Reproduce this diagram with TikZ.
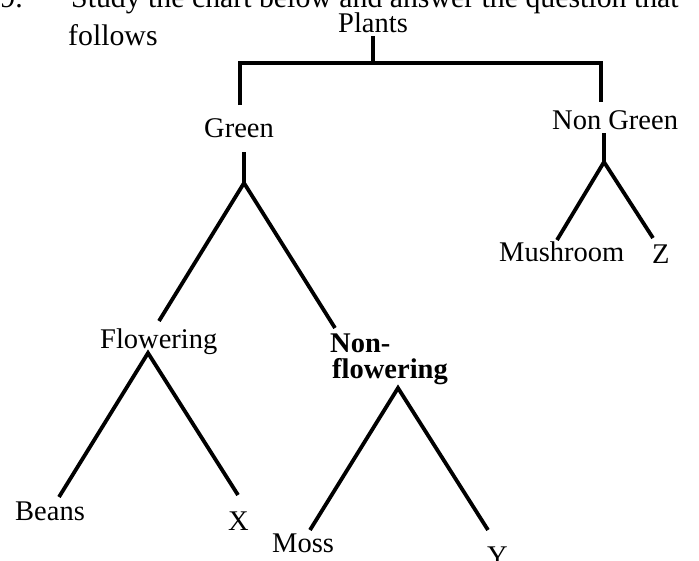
\documentclass[tikz,border=0pt]{standalone}
\usepackage{fontspec}
\setmainfont{Liberation Serif}
\begin{document}
\begin{tikzpicture}[x=1pt,y=-1pt,
  lbl/.style={inner sep=0pt,font=\fontsize{28.5}{30}\selectfont},
  head/.style={inner sep=0pt,font=\fontsize{29.8}{31}\selectfont},
  branch/.style={line width=3.8pt,line cap=butt,line join=miter,black}]
\useasboundingbox (0,0) rectangle (699,560);
\clip (0,0) rectangle (699,560);
\fill[white] (0,0) rectangle (699,560);
% heading
\node[head,anchor=base east] (num) at (23,7) {29.};
\node[head,anchor=base west] (q1) at (71,7) {Study the chart below and answer the question that};
\node[head,anchor=base west] (q2) at (68,45) {follows};
% labels
\node[lbl,anchor=base] (plants) at (373,32) {Plants};
\node[lbl,anchor=base] (green) at (239,137) {Green};
\node[lbl,anchor=base west] (nongreen) at (552,129) {Non Green};
\node[lbl,anchor=base west] (flow) at (100,348) {Flowering};
\node[lbl,anchor=base west] (non) at (330,352) {\bfseries Non-};
\node[lbl,anchor=base west] (nonflow) at (332,378) {\bfseries flowering};
\node[lbl,anchor=base west] (beans) at (15,520) {Beans};
\node[lbl,anchor=base west] (x) at (228,530) {X};
\node[lbl,anchor=base west] (moss) at (272,552) {Moss};
\node[lbl,anchor=base west] (y) at (487,565) {Y};
\node[lbl,anchor=base west] (mush) at (499,261) {Mushroom};
\node[lbl,anchor=base west] (z) at (652,263) {Z};
% junction coordinates
\coordinate (p1) at (373,36);
\coordinate (pbar) at (373,63);
\coordinate (gtop) at (240,105);
\coordinate (ngtop) at (601,102);
\coordinate (g1) at (244,152);
\coordinate (gapex) at (244,183);
\coordinate (gl) at (159,321);
\coordinate (gr) at (335,328);
\coordinate (fapex) at (148,353);
\coordinate (fl) at (59,497);
\coordinate (fr) at (238,495);
\coordinate (napex) at (398,388);
\coordinate (nl) at (310,530);
\coordinate (nr) at (488,530);
\coordinate (ng1) at (604,133);
\coordinate (ngapex) at (604,162);
\coordinate (ngl) at (557,240);
\coordinate (ngr) at (653,238);
% connectors
\draw[branch] (p1) -- (pbar);
\draw[branch] (gtop) |- (pbar) -| (ngtop);
\draw[branch] (g1) -- (gapex);
\draw[branch] (gl) -- (gapex) -- (gr);
\draw[branch] (fl) -- (fapex) -- (fr);
\draw[branch] (nl) -- (napex) -- (nr);
\draw[branch] (ng1) -- (ngapex);
\draw[branch] (ngl) -- (ngapex) -- (ngr);
\end{tikzpicture}
\end{document}
